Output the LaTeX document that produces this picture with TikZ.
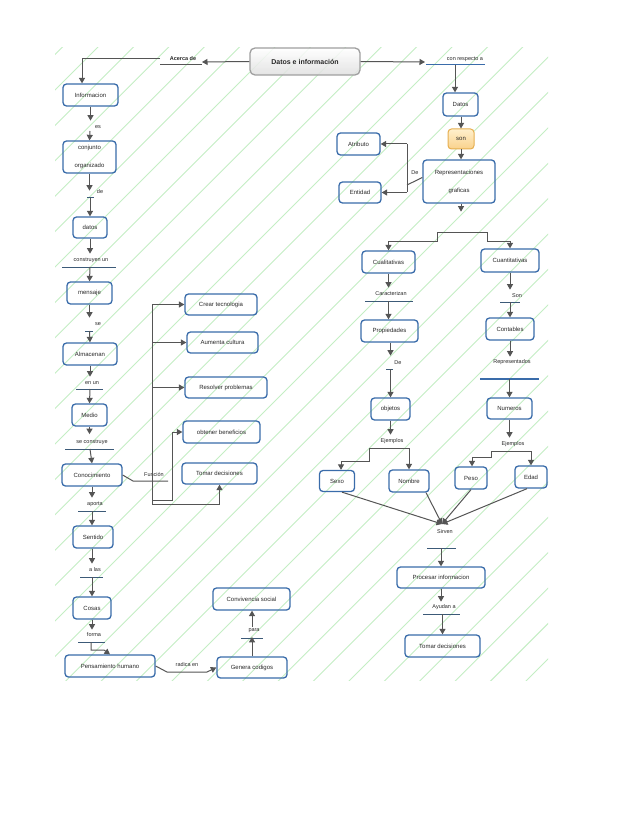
\documentclass[tikz,border=0pt]{standalone}
\usepackage{fontspec}
\setmainfont{Liberation Sans}
\usetikzlibrary{arrows.meta,calc}
\definecolor{boxblue}{RGB}{58,108,170}
\definecolor{lin}{RGB}{85,85,85}
\definecolor{txt}{RGB}{40,40,40}
\definecolor{hatchc}{RGB}{196,238,196}
\definecolor{barc}{RGB}{60,90,120}
\begin{document}
\begin{tikzpicture}[x=1pt,y=-1pt,
 box/.style={draw=boxblue, line width=1.3pt, rounded corners=3.5pt, text=txt, font=\fontsize{6}{7}\selectfont, inner sep=1pt, align=center},
 lbl/.style={text=txt, font=\fontsize{5.5}{6.5}\selectfont, inner sep=0pt},
 arr/.style={draw=lin, line width=1pt, -{Triangle[width=6pt,length=5.5pt]}},
 ln/.style={draw=lin, line width=1pt},
 bar/.style={draw=barc, line width=1pt},
 hatch/.style={draw=hatchc, line width=0.9pt}]
\useasboundingbox (0,0) rectangle (638,826);
\fill[white] (0,0) rectangle (638,826);
% background hatch
\begin{scope}
\clip (55,48) rectangle (548,680);
\foreach \k in {-2,...,32} {
  \pgfmathsetmacro\c{145+35.4*\k}
  \draw[hatch] (\c-40,40) -- (\c-700,700);
}
\end{scope}

% ---------- top
\node[box, draw=gray!75, top color=white, bottom color=gray!25, fill opacity=0.85, text opacity=1, rounded corners=5pt, minimum width=110pt, minimum height=27pt, font=\bfseries\fontsize{7}{8}\selectfont] (di) at (305,61.5) {Datos e información};
\node[lbl, font=\bfseries\fontsize{5.5}{6.5}\selectfont] (lac) at (183,59) {Acerca de};
\node[lbl] (lcr) at (465,59) {con respecto a};

% ---------- left column boxes
\node[box, minimum width=55pt, minimum height=22pt] (info) at (90.5,95) {Informacion};
\node[box, minimum width=53pt, minimum height=32pt] (conj) at (89.5,157) {conjunto\\[11pt]organizado};
\node[box, minimum width=34pt, minimum height=21pt] (datosL) at (90,227.5) {datos};
\node[box, minimum width=45pt, minimum height=22pt] (mensaje) at (89.5,293) {mensaje};
\node[box, minimum width=54pt, minimum height=22pt] (almac) at (90,354) {Almacenan};
\node[box, minimum width=35pt, minimum height=22pt] (medio) at (89.5,415) {Medio};
\node[box, minimum width=60pt, minimum height=22pt] (conoc) at (92,475) {Conocimiento};
\node[box, minimum width=40pt, minimum height=22pt] (sentido) at (93,537) {Sentido};
\node[box, minimum width=38pt, minimum height=22pt] (cosas) at (92,608) {Cosas};
\node[box, minimum width=90pt, minimum height=22pt] (pens) at (110,666) {Pensamiento humano};
\node[box, minimum width=70pt, minimum height=21pt] (genera) at (252,667.5) {Genera codigos};
\node[box, minimum width=77pt, minimum height=22pt] (conviv) at (251.5,599) {Convivencia social};
\node[box, minimum width=72pt, minimum height=21pt] (crear) at (221,304.5) {Crear tecnologia};
\node[box, minimum width=71pt, minimum height=21pt] (aumenta) at (222.5,342.5) {Aumenta cultura};
\node[box, minimum width=82pt, minimum height=21pt] (resolver) at (226,387.5) {Resolver problemas};
\node[box, minimum width=77pt, minimum height=22pt] (obtener) at (221.5,432) {obtener beneficios};
\node[box, minimum width=75pt, minimum height=21pt] (tomarL) at (219.5,473.5) {Tomar decisiones};

% ---------- right column boxes
\node[box, minimum width=35pt, minimum height=23pt] (datosR) at (460.5,104.5) {Datos};
\node[box, draw={rgb,255:red,230;green,175;blue,80}, line width=1pt, top color={rgb,255:red,255;green,240;blue,205}, bottom color={rgb,255:red,250;green,210;blue,140}, minimum width=26pt, minimum height=20pt] (son) at (461,139) {son};
\node[box, minimum width=72pt, minimum height=43pt] (rep) at (459,181.5) {Representaciones\\[11pt]graficas};
\node[box, minimum width=43pt, minimum height=22pt] (atrib) at (358.5,144) {Atributo};
\node[box, minimum width=42pt, minimum height=21pt] (entidad) at (360,192.5) {Entidad};
\node[box, minimum width=53pt, minimum height=22pt] (cuali) at (388.5,262) {Cualitativas};
\node[box, minimum width=58pt, minimum height=23pt] (cuanti) at (510,260.5) {Cuantitativas};
\node[box, minimum width=57pt, minimum height=22pt] (prop) at (389.5,331) {Propiedades};
\node[box, minimum width=48pt, minimum height=22pt] (contab) at (510,329) {Contables};
\node[box, minimum width=39pt, minimum height=22pt] (objetos) at (390.5,409) {objetos};
\node[box, minimum width=45pt, minimum height=21pt] (numeros) at (509.5,408.5) {Numeros};
\node[box, minimum width=35pt, minimum height=21pt] (sexo) at (337,481) {Sexo};
\node[box, minimum width=40pt, minimum height=22pt] (nombre) at (409,481) {Nombre};
\node[box, minimum width=32pt, minimum height=22pt] (peso) at (471,478) {Peso};
\node[box, minimum width=32pt, minimum height=22pt] (edad) at (531,477) {Edad};
\node[box, minimum width=88pt, minimum height=21pt] (procesar) at (441,577.5) {Procesar informacion};
\node[box, minimum width=75pt, minimum height=22pt] (tomarR) at (442.5,646) {Tomar decisiones};

% ---------- labels
\node[lbl] (les) at (98,127) {es};
\node[lbl] (lde) at (100,192) {de};
\node[lbl] (lcu) at (91,260) {construyen un};
\node[lbl] (lse) at (98,324) {se};
\node[lbl] (lenun) at (92,383) {en un};
\node[lbl] (lsec) at (92,442) {se construye};
\node[lbl] (lfun) at (154,474) {Función};
\node[lbl] (lap) at (95,504) {aporta};
\node[lbl] (llas) at (95,570) {a las};
\node[lbl] (lfor) at (94,635) {forma};
\node[lbl] (lrad) at (187,665) {radica en};
\node[lbl] (lpara) at (254,631) {para};
\node[lbl] (lDe) at (415,173) {De};
\node[lbl] (lcar) at (391,294) {Caracterizan};
\node[lbl] (lson) at (517,296) {Son};
\node[lbl] (lDe2) at (398,363) {De};
\node[lbl] (lrep) at (512,362) {Representados};
\node[lbl] (lej1) at (392,441) {Ejemplos};
\node[lbl] (lej2) at (513,444) {Ejemplos};
\node[lbl] (lsir) at (445,532) {Sirven};
\node[lbl] (lay) at (444,607) {Ayudan a};

% ---------- bars (underlines)
\draw[ln] (160,65) -- (202,65);
\draw[bar, draw=boxblue] (426,65) -- (485,65);
\draw[bar] (87,198) -- (94,198);
\draw[bar] (62,267) -- (116,267);
\draw[bar] (85,331) -- (93,331);
\draw[bar] (76,389) -- (103,389);
\draw[bar] (65,449) -- (114,449);
\draw[bar] (78,511) -- (106,511);
\draw[bar] (80,577) -- (103,577);
\draw[bar] (78,642) -- (105,642);
\draw[bar] (241,638) -- (263,638);
\draw[bar] (365,301) -- (413,301);
\draw[bar] (500,302) -- (520,302);
\draw[bar] (386,369) -- (393,369);
\draw[bar, draw=boxblue, line width=1.8pt] (480,379) -- (539,379);
\draw[bar] (427,548) -- (456,548);
\draw[bar] (423,614) -- (460,614);

% ---------- coordinates
\coordinate (acE) at (202,62);
\coordinate (acW) at (160,59);
\coordinate (crW) at (425,62);
\coordinate (crS) at (455,65);
\coordinate (c_es) at (90,131);
\coordinate (c_de) at (90,198);
\coordinate (c_cu) at (90,267);
\coordinate (c_se) at (89.5,331);
\coordinate (c_en) at (90,389);
\coordinate (c_sc) at (90,449);
\coordinate (c_ap) at (92,511);
\coordinate (c_las) at (92,577);
\coordinate (c_for) at (91,642);
\coordinate (c_para) at (252,627);
\coordinate (repDe) at (407,185);
\coordinate (brL) at (437,232);
\coordinate (brR) at (487,232);
\coordinate (c_car) at (388.5,301);
\coordinate (c_son) at (510,302);
\coordinate (c_De2) at (390.5,369);
\coordinate (c_rep) at (509.5,379);
\coordinate (ej1) at (369,448);
\coordinate (ej1r) at (409,448);
\coordinate (ej2) at (491,451);
\coordinate (ej2r) at (531,451);
\coordinate (conv) at (442,524);
\coordinate (c_sir) at (441,548);
\coordinate (c_ay) at (442.5,614);
\coordinate (trT) at (152,304.5);
\coordinate (trB) at (152,504);
\coordinate (fun) at (168,481);

% ---------- connectors: top
\draw[arr] (di.west) -- (acE);
\draw[arr] (acW) -| ($(info.north)+(-8.5,0)$);
\draw[arr] (di.east) -- (crW);
\draw[arr] (crS) -- (crS |- datosR.north);

% ---------- connectors: left column
\draw[arr] (info.south) -- ++(0,14);
\draw[arr] (c_es) -- (conj.north);
\draw[arr] (conj.south) -- ++(0,17);
\draw[arr] (c_de) -- (datosL.north);
\draw[arr] (datosL.south) -- ++(0,15);
\draw[arr] (c_cu) -- (mensaje.north);
\draw[arr] (mensaje.south) -- ++(0,13);
\draw[arr] (c_se) -- (almac.north);
\draw[arr] (almac.south) -- ++(0,11);
\draw[arr] (c_en) -- (medio.north);
\draw[arr] (medio.south) -- ++(0,7.5);
\draw[arr] (c_sc) -- (conoc.north);
\draw[arr] (conoc.south) -- ++(0,11);
\draw[arr] (c_ap) -- (sentido.north -| c_ap);
\draw[arr] (sentido.south -| c_las) -- ++(0,15);
\draw[arr] (c_las) -- (cosas.north);
\draw[arr] (cosas.south) -- ++(0,10);
\draw[arr] (c_for) |- (104,650) -- (pens.north);
\draw[arr] (pens.east) -- (167,672) -- (207,672) -- (genera.west);
\draw[arr] (genera.north) -- ++(0,-19.5);
\draw[arr] (c_para) -- (conviv.south -| c_para);
% Funcion
\draw[ln] (conoc.east) -- (133,481) -- (fun);
\draw[ln] (trT) -- (trB);
\draw[arr] (trT) -- (crear.west);
\draw[arr] (152,342.5) -- (aumenta.west);
\draw[arr] (152,387.5) -- (resolver.west);
\draw[arr] (trB) -| (tomarL.south);
\draw[arr] (152,500) -| (172,432) -- (obtener.west);

% ---------- connectors: right
\draw[arr] (datosR.south -| son) -- (son.north);
\draw[arr] (son.south) -- (son.south |- rep.north);
\draw[arr] (rep.south -| son) -- ++(0,8);
\draw[ln] (rep.west) ++(0,-4) -- (repDe);
\draw[ln] (407,144) -- (407,192.5);
\draw[arr] (407,144) -- (atrib.east);
\draw[arr] (407,192.5) -- (entidad.east);
\draw[ln] (brL) -- (brR);
\draw[arr] (brL) -- (437,241) -| (cuali.north);
\draw[arr] (brR) -- (487,241) -| (cuanti.north);
\draw[arr] (cuali.south) -- ++(0,14);
\draw[arr] (c_car) -- (prop.north -| c_car);
\draw[arr] (cuanti.south) -- ++(0,17);
\draw[arr] (c_son) -- (contab.north);
\draw[arr] (prop.south -| c_De2) -- ++(0,13);
\draw[arr] (c_De2) -- (objetos.north);
\draw[arr] (contab.south) -- ++(0,16);
\draw[arr] (c_rep) -- (numeros.north);
\draw[arr] (objetos.south) -- ++(0,14);
\draw[ln] (ej1) -- (ej1r);
\draw[arr] (ej1r) -- (nombre.north);
\draw[arr] (ej1) -- (369,461) -| ($(sexo.north)+(4,0)$);
\draw[arr] (numeros.south) -- ++(0,18);
\draw[ln] (ej2) -- (ej2r);
\draw[arr] (ej2r) -- (edad.north);
\draw[arr] (ej2) -- (491,457) -| ($(peso.north)+(1,0)$);
\draw[arr] ($(sexo.south)+(5,0)$) -- (conv);
\draw[arr] ($(nombre.south)+(17,0)$) -- (conv);
\draw[arr] (peso.south) -- (conv);
\draw[arr] ($(edad.south)+(-4,0)$) -- (conv);
\draw[arr] (c_sir) -- (procesar.north);
\draw[arr] (procesar.south) -- ++(0,13);
\draw[arr] (c_ay) -- (tomarR.north);
\end{tikzpicture}
\end{document}
